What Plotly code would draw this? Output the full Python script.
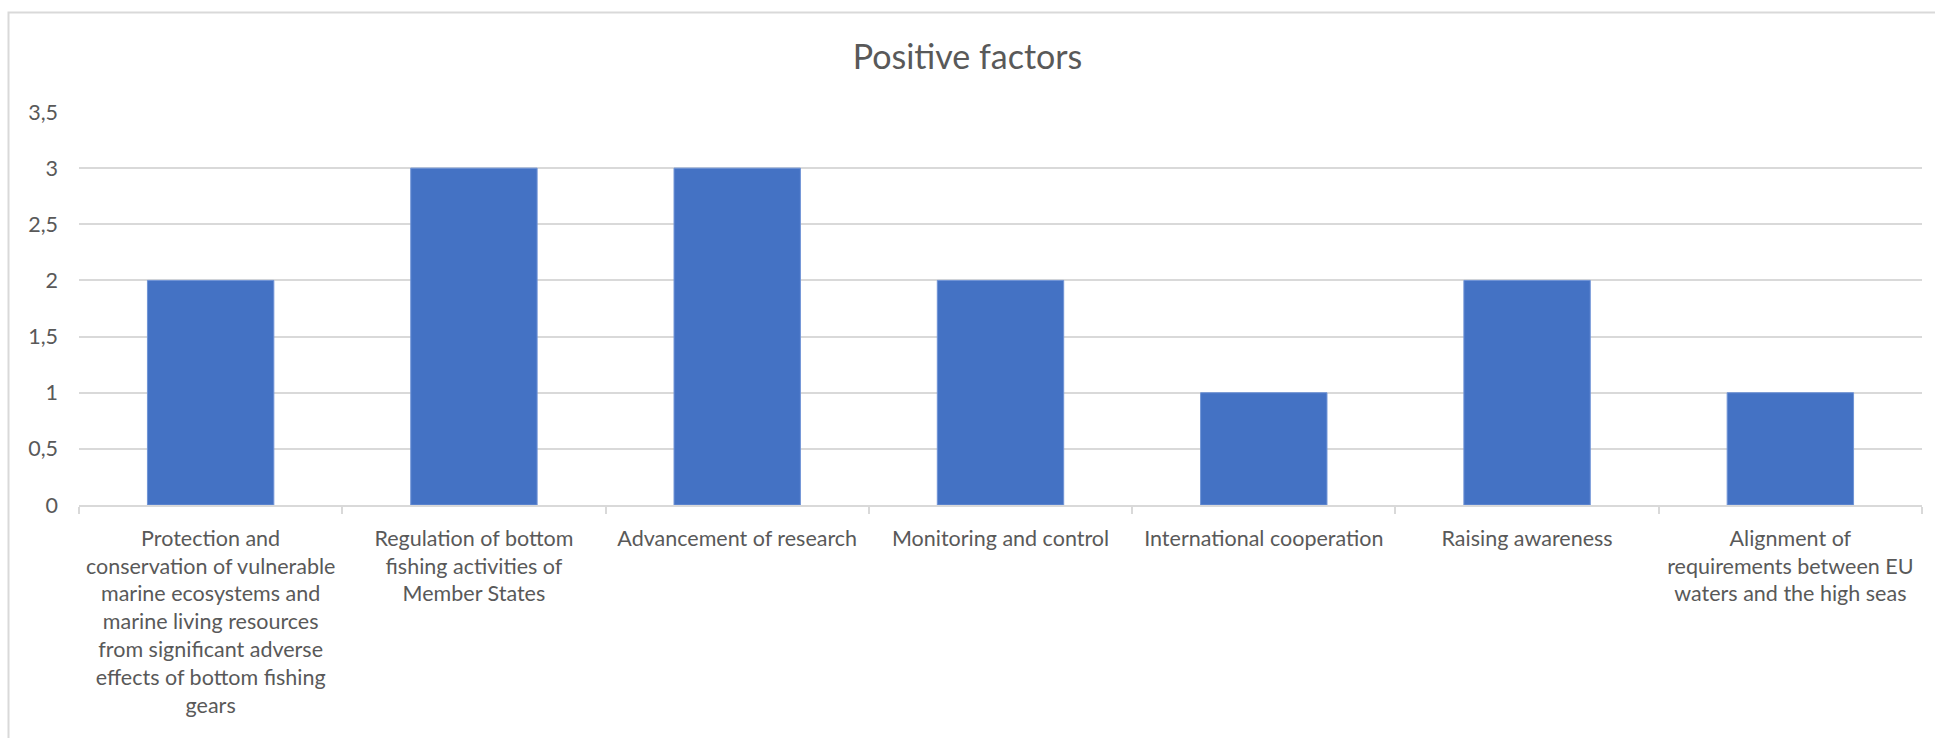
import plotly.graph_objects as go

categories = [
    "Protection and<br>conservation of vulnerable<br>marine ecosystems and<br>marine living resources<br>from significant adverse<br>effects of bottom fishing<br>gears",
    "Regulation of bottom<br>fishing activities of<br>Member States",
    "Advancement of research",
    "Monitoring and control",
    "International cooperation",
    "Raising awareness",
    "Alignment of<br>requirements between EU<br>waters and the high seas",
]
values = [2, 3, 3, 2, 1, 2, 1]
y_tickvals = [0, 0.5, 1, 1.5, 2, 2.5, 3, 3.5]
y_ticktext = ["0", "0,5", "1", "1,5", "2", "2,5", "3", "3,5"]

W, H = 1935, 738
L, R, T, B = 79, 13, 112, 233
pw = W - L - R
ph = H - T - B

fig = go.Figure()
fig.add_trace(go.Bar(
    x=categories, y=values,
    marker=dict(color="#4472C4", line=dict(color="#6f93d6", width=1)),
))

fig.update_layout(
    width=W, height=H,
    margin=dict(l=L, r=R, t=T, b=B, autoexpand=False),
    paper_bgcolor="white", plot_bgcolor="white",
    bargap=0.52,
    showlegend=False,
    font=dict(family="Lato, Open Sans, sans-serif", color="#595959"),
    title=dict(text="Positive factors", x=0.5, xanchor="center",
               y=1 - 57 / H, yanchor="middle", yref="container",
               font=dict(size=34, color="#595959")),
)
fig.update_xaxes(
    tickson="boundaries", ticks="outside", ticklen=7, tickcolor="#d9d9d9",
    tickwidth=1.5,
    showline=True, linecolor="#d9d9d9", linewidth=1.5,
    tickfont=dict(size=21.5, color="#595959"),
    ticklabelstandoff=13,
    showgrid=False, automargin=False,
)
fig.update_yaxes(
    range=[0, 3.5], tickvals=y_tickvals, ticktext=y_ticktext,
    showgrid=True, gridcolor="#d9d9d9", gridwidth=1.5,
    zeroline=False, showline=False, ticks="",
    tickfont=dict(size=21.5, color="#595959"),
    ticklabelstandoff=20, automargin=False,
)

# chart-area border (light grey frame)
x0 = (8.5 - L) / pw
y1 = (H - B - 12.5) / ph
fig.add_shape(type="rect", xref="paper", yref="paper",
              x0=x0, x1=2, y0=-2, y1=y1,
              line=dict(color="#d9d9d9", width=2), layer="below")

fig.write_html("out.html")
